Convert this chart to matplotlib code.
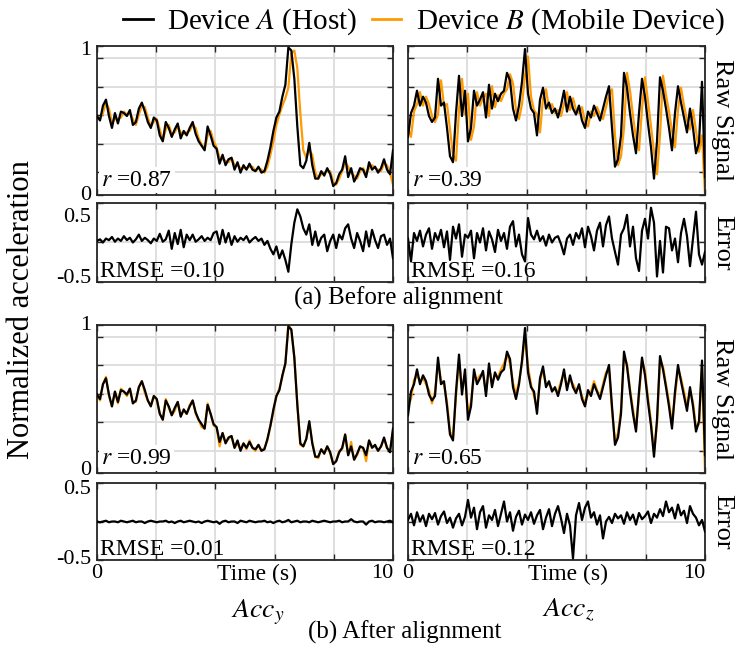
import numpy as np
import matplotlib
matplotlib.use('Agg')
import matplotlib.pyplot as plt
from matplotlib.lines import Line2D

plt.rcParams['font.family'] = ['Liberation Serif', 'DejaVu Serif']
plt.rcParams['mathtext.fontset'] = 'stix'
plt.rcParams['axes.unicode_minus'] = False

# ---------------- data ----------------
time_s = np.linspace(0, 10, 100)

acc_y_host = [
    0.53, 0.50, 0.60, 0.64, 0.53, 0.45, 0.55, 0.48, 0.56, 0.55,
    0.53, 0.57, 0.47, 0.49, 0.58, 0.62, 0.56, 0.49, 0.45, 0.52,
    0.50, 0.40, 0.36, 0.49, 0.45, 0.39, 0.44, 0.48, 0.38, 0.43,
    0.40, 0.45, 0.49, 0.41, 0.36, 0.33, 0.30, 0.46, 0.40, 0.33,
    0.31, 0.21, 0.27, 0.20, 0.24, 0.25, 0.17, 0.22, 0.15, 0.20,
    0.17, 0.21, 0.17, 0.16, 0.19, 0.15, 0.16, 0.23, 0.32, 0.43,
    0.52, 0.56, 0.66, 0.74, 0.99, 0.97, 0.78, 0.46, 0.20, 0.18,
    0.23, 0.35, 0.20, 0.11, 0.11, 0.16, 0.13, 0.18, 0.14, 0.06,
    0.08, 0.14, 0.17, 0.26, 0.12, 0.18, 0.09, 0.13, 0.18, 0.17,
    0.12, 0.22, 0.17, 0.19, 0.15, 0.18, 0.24, 0.17, 0.14, 0.30]

acc_y_mobile_before = [
    0.52, 0.51, 0.55, 0.62, 0.58, 0.48, 0.51, 0.51, 0.52, 0.56,
    0.54, 0.55, 0.51, 0.47, 0.54, 0.60, 0.59, 0.52, 0.46, 0.49,
    0.51, 0.44, 0.37, 0.44, 0.47, 0.41, 0.42, 0.46, 0.42, 0.41,
    0.42, 0.43, 0.47, 0.45, 0.38, 0.34, 0.31, 0.40, 0.43, 0.36,
    0.32, 0.25, 0.24, 0.23, 0.22, 0.25, 0.20, 0.20, 0.18, 0.18,
    0.18, 0.19, 0.19, 0.16, 0.18, 0.17, 0.15, 0.19, 0.27, 0.36,
    0.47, 0.54, 0.60, 0.65, 0.72, 0.95, 0.97, 0.85, 0.55, 0.30,
    0.25, 0.30, 0.27, 0.15, 0.11, 0.14, 0.15, 0.16, 0.16, 0.09,
    0.07, 0.11, 0.16, 0.22, 0.19, 0.15, 0.13, 0.11, 0.16, 0.18,
    0.14, 0.18, 0.20, 0.18, 0.17, 0.16, 0.21, 0.20, 0.15, 0.07]

acc_z_host = [
    0.39, 0.55, 0.60, 0.70, 0.60, 0.66, 0.62, 0.53, 0.49, 0.52,
    0.78, 0.60, 0.62, 0.45, 0.26, 0.22, 0.55, 0.80, 0.53, 0.70,
    0.36, 0.45, 0.70, 0.60, 0.64, 0.69, 0.52, 0.74, 0.58, 0.68,
    0.63, 0.68, 0.70, 0.82, 0.77, 0.58, 0.50, 0.60, 0.76, 0.98,
    0.68, 0.58, 0.55, 0.40, 0.64, 0.72, 0.58, 0.62, 0.55, 0.58,
    0.52, 0.60, 0.70, 0.56, 0.66, 0.58, 0.54, 0.60, 0.50, 0.45,
    0.56, 0.52, 0.60, 0.55, 0.50, 0.58, 0.66, 0.73, 0.45, 0.19,
    0.24, 0.40, 0.82, 0.72, 0.55, 0.40, 0.28, 0.55, 0.78, 0.66,
    0.48, 0.32, 0.11, 0.36, 0.79, 0.70, 0.58, 0.45, 0.30, 0.55,
    0.73, 0.62, 0.52, 0.42, 0.58, 0.45, 0.28, 0.35, 0.76, 0.12]

acc_z_mobile_before = [
    0.45, 0.39, 0.56, 0.61, 0.69, 0.60, 0.66, 0.61, 0.53, 0.49,
    0.54, 0.77, 0.60, 0.61, 0.44, 0.27, 0.23, 0.57, 0.78, 0.54,
    0.68, 0.37, 0.46, 0.69, 0.60, 0.65, 0.68, 0.53, 0.73, 0.59,
    0.67, 0.63, 0.68, 0.71, 0.81, 0.75, 0.57, 0.51, 0.61, 0.80,
    0.93, 0.66, 0.57, 0.54, 0.42, 0.65, 0.71, 0.58, 0.61, 0.55,
    0.57, 0.53, 0.61, 0.69, 0.57, 0.65, 0.57, 0.55, 0.59, 0.49,
    0.46, 0.56, 0.53, 0.59, 0.54, 0.51, 0.59, 0.67, 0.71, 0.40,
    0.20, 0.26, 0.45, 0.82, 0.70, 0.53, 0.38, 0.30, 0.58, 0.79,
    0.63, 0.46, 0.29, 0.14, 0.40, 0.80, 0.67, 0.56, 0.43, 0.32,
    0.57, 0.72, 0.60, 0.50, 0.44, 0.57, 0.43, 0.29, 0.40, 0.00]

acc_z_mobile_after = [
    0.45, 0.50, 0.63, 0.66, 0.62, 0.64, 0.60, 0.56, 0.47, 0.55,
    0.74, 0.63, 0.60, 0.48, 0.28, 0.24, 0.52, 0.76, 0.58, 0.66,
    0.40, 0.48, 0.66, 0.63, 0.66, 0.67, 0.55, 0.71, 0.61, 0.66,
    0.65, 0.70, 0.74, 0.80, 0.74, 0.61, 0.53, 0.62, 0.74, 0.93,
    0.72, 0.60, 0.52, 0.44, 0.62, 0.70, 0.60, 0.60, 0.57, 0.56,
    0.55, 0.62, 0.67, 0.58, 0.63, 0.60, 0.56, 0.58, 0.52, 0.47,
    0.53, 0.55, 0.62, 0.56, 0.52, 0.60, 0.68, 0.70, 0.42, 0.21,
    0.27, 0.43, 0.78, 0.74, 0.57, 0.43, 0.30, 0.52, 0.76, 0.69,
    0.51, 0.35, 0.14, 0.33, 0.76, 0.72, 0.60, 0.48, 0.33, 0.52,
    0.70, 0.64, 0.55, 0.45, 0.56, 0.48, 0.31, 0.33, 0.72, 0.00]

# error traces (mobile device - host), as drawn in the error panels
err_y_before = [
    0.02, 0.04, 0.00, 0.05, 0.03, 0.07, 0.01, 0.05, 0.02, 0.08,
    0.03, 0.06, 0.00, 0.04, 0.10, 0.02, 0.06, 0.03, -0.01, 0.05,
    0.02, 0.11, 0.01, 0.04, 0.15, -0.08, 0.12, -0.02, 0.16, -0.06,
    0.10, 0.03, 0.10, 0.01, 0.04, 0.08, 0.02, 0.06, 0.03, 0.12,
    0.14, -0.02, 0.16, 0.00, 0.12, -0.03, 0.08, 0.01, 0.06, 0.03,
    0.08, 0.00, 0.04, 0.07, 0.02, 0.05, -0.03, 0.02, -0.08, -0.15,
    -0.05, -0.20, -0.10, -0.22, -0.37, -0.02, 0.25, 0.42, 0.33, 0.18,
    0.10, 0.23, -0.03, 0.14, -0.04, 0.06, 0.10, -0.11, 0.02, 0.10,
    -0.07, 0.10, 0.04, 0.18, 0.23, 0.05, -0.07, 0.12, 0.02, -0.11,
    0.14, -0.05, 0.16, 0.03, -0.07, 0.08, 0.10, -0.03, 0.05, -0.20]

err_z_before = [
    0.05, -0.24, 0.12, 0.02, 0.15, -0.05, 0.10, 0.18, -0.08, 0.12,
    0.03, 0.16, -0.06, 0.14, -0.22, 0.20, 0.05, 0.23, -0.18, 0.10,
    0.06, 0.15, -0.20, 0.12, 0.00, 0.18, -0.10, 0.14, 0.04, -0.12,
    0.16, 0.02, 0.12, -0.08, 0.20, 0.27, -0.05, 0.10, -0.15, -0.24,
    0.31, 0.10, 0.04, 0.15, 0.02, 0.08, -0.04, 0.10, 0.00, 0.06,
    0.08, -0.02, -0.15, 0.05, 0.10, -0.03, 0.12, 0.05, 0.18, -0.06,
    0.20, 0.08, -0.10, 0.15, 0.25, -0.05, 0.22, 0.33, 0.05, -0.12,
    -0.28, 0.10, 0.18, 0.35, -0.05, 0.20, -0.20, -0.36, 0.15, 0.30,
    0.05, 0.44, 0.25, -0.43, 0.02, -0.38, 0.20, 0.18, -0.10, 0.05,
    -0.25, 0.12, 0.30, 0.08, -0.30, 0.05, 0.39, -0.15, -0.28, -0.12]

err_y_after = [
    0.00, -0.01, 0.00, 0.01, -0.01, 0.00, 0.00, -0.01, 0.01, 0.00,
    -0.01, 0.00, 0.01, -0.01, 0.00, 0.00, -0.02, 0.00, 0.01, 0.00,
    -0.01, 0.00, 0.00, 0.01, -0.01, 0.00, -0.02, 0.00, 0.01, -0.01,
    0.00, 0.01, 0.00, -0.01, 0.00, -0.02, 0.00, 0.01, 0.00, -0.01,
    0.00, -0.03, 0.00, 0.01, -0.01, 0.00, 0.00, -0.02, 0.01, 0.00,
    -0.01, 0.01, 0.00, -0.01, 0.00, 0.00, 0.01, -0.01, 0.00, -0.02,
    0.00, 0.01, -0.01, 0.00, 0.02, -0.01, 0.00, 0.01, -0.01, 0.00,
    0.00, -0.01, 0.01, 0.00, -0.01, 0.00, 0.01, 0.00, -0.01, 0.00,
    0.00, 0.01, -0.01, 0.00, 0.00, 0.03, 0.00, -0.01, 0.00, 0.00,
    -0.04, 0.00, 0.01, -0.01, 0.00, 0.00, -0.01, 0.00, 0.01, -0.01]

err_z_after = [
    0.02, 0.10, -0.05, 0.12, 0.00, 0.08, -0.06, 0.10, 0.03, 0.11,
    -0.04, 0.07, 0.13, -0.02, 0.05, -0.08, 0.04, 0.10, -0.05, 0.06,
    0.28, 0.05, 0.18, -0.10, 0.12, 0.20, -0.08, 0.08, 0.02, 0.15,
    -0.06, 0.10, 0.26, 0.00, 0.12, -0.12, 0.06, 0.14, -0.04, 0.09,
    0.02, 0.12, -0.03, 0.08, 0.15, -0.10, 0.05, 0.16, -0.06, 0.10,
    0.20, 0.04, -0.15, 0.10, -0.05, -0.48, 0.08, 0.24, 0.02, 0.18,
    0.26, 0.05, 0.12, -0.04, 0.08, -0.22, 0.00, 0.06, -0.02, 0.10,
    0.04, 0.08, -0.03, 0.12, 0.02, 0.09, -0.04, 0.11, 0.03, 0.07,
    0.13, -0.02, 0.10, 0.05, 0.16, 0.07, 0.26, 0.12, 0.18, 0.04,
    0.22, 0.08, 0.14, -0.02, 0.20, 0.10, 0.05, -0.05, 0.02, -0.13]

r_values = [['0.87', '0.39'], ['0.99', '0.65']]
rmse_values = [['0.10', '0.16'], ['0.01', '0.12']]
axis_names = [r'$Acc_y$', r'$Acc_z$']
captions = ['(a) Before alignment', '(b) After alignment']
legend_labels = [r'Device $A$ (Host)', r'Device $B$ (Mobile Device)']

hy = np.array(acc_y_host)
hz = np.array(acc_z_host)
# (host, mobile, error) per row / column
panels = [
    [(hy, np.array(acc_y_mobile_before), np.array(err_y_before)),
     (hz, np.array(acc_z_mobile_before), np.array(err_z_before))],
    [(hy, hy + np.array(err_y_after), np.array(err_y_after)),
     (hz, np.array(acc_z_mobile_after), np.array(err_z_after))],
]

# ---------------- figure ----------------
W, H = 737, 650
fig = plt.figure(figsize=(W / 100, H / 100), dpi=100)

BLACK = '#000000'
ORANGE = '#ff9a00'
GRID = '#dcdcdc'
SPINE = '#262626'
TICKFS = 16

col_x = [(97, 393), (408, 705)]
raw_rows = [(46, 195), (325, 473)]
err_rows = [(203, 282), (483, 560)]
raw_grid = [0.152, 0.342, 0.537, 0.727, 0.918]
raw_lab_pos = [(0.0, 0.97), (0.02, 1.0)]
err_lab_pos = [(0.05, 0.82), (0.01, 0.91)]


def make_ax(xr, yr):
    l, r = xr
    t, b = yr
    return fig.add_axes([l / W, 1 - b / H, (r - l) / W, (b - t) / H])


def style(ax):
    for s in ax.spines.values():
        s.set_color(SPINE)
        s.set_linewidth(1.3)
    ax.tick_params(which='both', direction='in', top=True, right=True,
                   length=4, width=1, color=SPINE, labelsize=TICKFS, pad=3)
    ax.grid(True, which='major', color=GRID, lw=1.3)
    ax.set_axisbelow(True)
    ax.set_xlim(0, 10)
    ax.set_xticks([0, 2, 4, 6, 8, 10])


for row in range(2):
    for col in range(2):
        h, mob, e = panels[row][col]
        # raw signal
        ax = make_ax(col_x[col], raw_rows[row])
        style(ax)
        ax.plot(time_s, mob, color=ORANGE, lw=1.6, zorder=2)
        ax.plot(time_s, h, color=BLACK, lw=1.6, zorder=3)
        ax.set_ylim(0, 1)
        ax.set_yticks([0] + raw_grid + [1])
        ax.set_yticklabels([])
        ax.set_xticklabels([])
        if col == 0:
            lo, hi = raw_lab_pos[row]
            ax.text(-0.02, lo, '0', transform=ax.transAxes, ha='right', va='center', fontsize=TICKFS)
            ax.text(-0.02, hi, '1', transform=ax.transAxes, ha='right', va='center', fontsize=TICKFS)
        ax.text(0.015, 0.03, r'$r$ =' + r_values[row][col], transform=ax.transAxes,
                fontsize=17, ha='left', va='bottom', zorder=5,
                bbox=dict(facecolor='white', edgecolor='none', pad=1.5))

        # error
        ax2 = make_ax(col_x[col], err_rows[row])
        style(ax2)
        ax2.plot(time_s, e, color=BLACK, lw=1.6, zorder=3)
        ax2.set_ylim(-0.5, 0.5)
        ax2.set_yticks([-0.5, 0, 0.5])
        ax2.set_yticklabels([])
        if col == 0:
            lo, hi = err_lab_pos[row]
            ax2.text(-0.02, lo, '-0.5', transform=ax2.transAxes, ha='right', va='center', fontsize=TICKFS)
            ax2.text(-0.02, hi, '0.5', transform=ax2.transAxes, ha='right', va='center', fontsize=TICKFS)
        if row == 1:
            xl = ax2.set_xticklabels(['0', '', '', '', '', '10'])
            xl[-1].set_ha('right')
            ax2.set_xticks([5.4], minor=True)
            ax2.set_xticklabels(['Time (s)'], minor=True)
            ax2.tick_params(which='minor', length=0, labelsize=17, pad=3)
        else:
            ax2.set_xticklabels([])
        ax2.text(0.01, 0.0, 'RMSE =' + rmse_values[row][col], transform=ax2.transAxes,
                 fontsize=17, ha='left', va='bottom', zorder=1)

# right-side labels
for (t, b) in raw_rows:
    fig.text(722 / W, 1 - (t + b) / 2 / H, 'Raw Signal', rotation=-90,
             ha='center', va='center', fontsize=19)
for (t, b) in err_rows:
    fig.text(722 / W, 1 - (t + b) / 2 / H, 'Error', rotation=-90,
             ha='center', va='center', fontsize=19)

fig.text(22 / W, 1 - 310 / H, 'Normalized acceleration', rotation=90,
         ha='center', va='center', fontsize=22)

fig.text(398 / W, 1 - 298 / H, captions[0], ha='center', va='center', fontsize=18)
fig.text(405 / W, 1 - 632 / H, captions[1], ha='center', va='center', fontsize=18)
fig.text(258 / W, 1 - 612 / H, axis_names[0], ha='center', va='center', fontsize=20)
fig.text(568 / W, 1 - 610 / H, axis_names[1], ha='center', va='center', fontsize=20)

handles = [Line2D([], [], color=BLACK, lw=2), Line2D([], [], color=ORANGE, lw=2)]
fig.legend(handles, legend_labels, loc='center', bbox_to_anchor=(424 / W, 1 - 22 / H),
           ncol=2, frameon=False, fontsize=21, handlelength=1.0, handletextpad=0.5,
           columnspacing=0.5, borderpad=0)

fig.savefig('out.png', dpi=100)
